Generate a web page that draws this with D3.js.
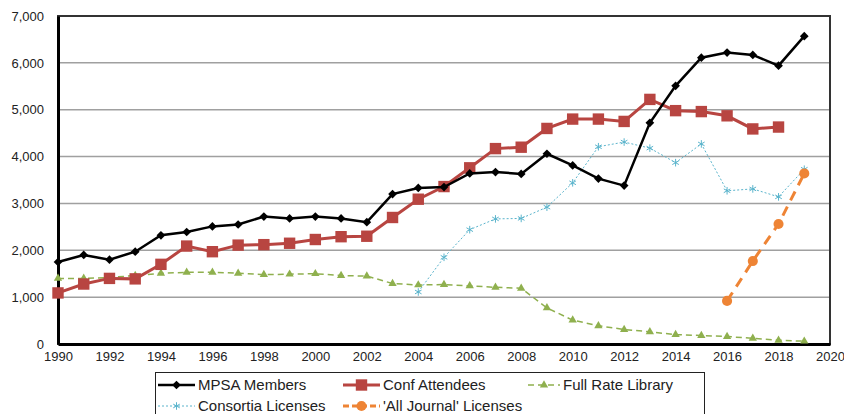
<!DOCTYPE html>
<html>
<head>
<meta charset="utf-8">
<script src="https://cdnjs.cloudflare.com/ajax/libs/d3/7.8.5/d3.min.js"></script>
<style>
  body { margin: 0; background: #fff; }
  svg text { font-family: Arial, "Liberation Sans", sans-serif; fill: #222; }
</style>
</head>
<body>
<svg id="chart" width="844" height="414"></svg>
<script>
// years on the x axis
var years = d3.range(1990, 2020);

var mpsaMembers = [1750, 1900, 1800, 1970, 2320, 2390, 2510, 2550, 2720, 2680,
                   2720, 2680, 2600, 3200, 3330, 3350, 3640, 3670, 3630, 4060,
                   3810, 3530, 3380, 4720, 5510, 6110, 6220, 6170, 5940, 6570];
var confAttendees = [1090, 1280, 1400, 1390, 1700, 2090, 1970, 2110, 2120, 2150,
                     2230, 2290, 2300, 2700, 3090, 3360, 3760, 4170, 4200, 4600,
                     4800, 4800, 4750, 5220, 4980, 4960, 4870, 4590, 4630, null];
var fullRateLibrary = [1400, 1400, 1420, 1460, 1510, 1530, 1530, 1510, 1480, 1490,
                       1500, 1460, 1450, 1290, 1260, 1270, 1240, 1210, 1190, 770,
                       510, 390, 310, 260, 200, 180, 160, 120, 80, 60];
var consortiaLicenses = [null, null, null, null, null, null, null, null, null, null,
                         null, null, null, null, 1110, 1850, 2440, 2670, 2680, 2920,
                         3440, 4210, 4310, 4180, 3870, 4270, 3270, 3310, 3140, 3730];
var allJournalLicenses = [null, null, null, null, null, null, null, null, null, null,
                          null, null, null, null, null, null, null, null, null, null,
                          null, null, null, null, null, null, 920, 1770, 2560, 3640];

var xTicks = d3.range(1990, 2021, 2);
var yTicks = d3.range(0, 7001, 1000);

var margin = {top: 16, right: 14, bottom: 70, left: 58};
var width = 844 - margin.left - margin.right,
    height = 414 - margin.top - margin.bottom;

var svg = d3.select("#chart");
var g = svg.append("g").attr("transform", "translate(" + margin.left + "," + margin.top + ")");

var x = d3.scaleLinear().domain([1990, 2020]).range([0, width]);
var y = d3.scaleLinear().domain([0, 7000]).range([height, 0]);

// gridlines
g.selectAll("line.grid")
    .data(yTicks.slice(1, -1))
    .enter().append("line")
    .attr("class", "grid")
    .attr("x1", 0).attr("x2", width)
    .attr("y1", d => y(d)).attr("y2", d => y(d))
    .attr("stroke", "#a0a0a0")
    .attr("stroke-width", 1.5);

// frame (top/right)
g.append("rect")
    .attr("x", 0).attr("y", 0)
    .attr("width", width).attr("height", height)
    .attr("fill", "none")
    .attr("stroke", "#333")
    .attr("stroke-width", 2);

// axes
var yAxis = g.append("g")
    .call(d3.axisLeft(y).tickValues(yTicks).tickFormat(d3.format(",")).tickSize(0).tickPadding(14));
yAxis.select(".domain").attr("stroke", "#000").attr("stroke-width", 3);
yAxis.selectAll("text").attr("font-size", 13);

var xAxis = g.append("g")
    .attr("transform", "translate(0," + height + ")")
    .call(d3.axisBottom(x).tickValues(xTicks).tickFormat(d3.format("d")).tickSize(0).tickPadding(8));
xAxis.select(".domain").attr("stroke", "#000").attr("stroke-width", 3);
xAxis.selectAll("text").attr("font-size", 13);

var series = [
  {name: "MPSA Members", values: mpsaMembers, color: "#000", width: 2.5, dash: null, marker: "diamond", size: 38},
  {name: "Conf Attendees", values: confAttendees, color: "#b84541", width: 3, dash: null, marker: "square", size: 130},
  {name: "Full Rate Library", values: fullRateLibrary, color: "#8fb04e", width: 1.5, dash: "6,4", marker: "triangle", size: 30},
  {name: "Consortia Licenses", values: consortiaLicenses, color: "#5ab4cc", width: 1, dash: "2,2", marker: "asterisk", size: 40},
  {name: "'All Journal' Licenses", values: allJournalLicenses, color: "#ee8435", width: 3, dash: "10,7", marker: "circle", size: 80}
];

var symbolFor = {
  diamond: d3.symbolSquare, // rotated 45 below
  square: d3.symbolSquare,
  triangle: d3.symbolTriangle,
  asterisk: d3.symbolAsterisk,
  circle: d3.symbolCircle
};

var line = d3.line()
    .defined(d => d.v != null)
    .x(d => x(d.year))
    .y(d => y(d.v));

function drawMarker(sel, s) {
  var sym = d3.symbol().type(symbolFor[s.marker]).size(s.size);
  sel.attr("d", sym)
     .attr("fill", s.marker == "asterisk" ? "none" : s.color)
     .attr("stroke", s.color)
     .attr("stroke-width", s.marker == "asterisk" ? 1 : 0);
}

function rot(s) {
  return s.marker == "diamond" ? " rotate(45)" : "";
}

// draw order: full rate, consortia, all journal, conf, mpsa
[2, 3, 4, 1, 0].forEach(function (i) {
  var s = series[i];
  var pts = years.map((yr, j) => ({year: yr, v: s.values[j]}));
  g.append("path")
      .datum(pts)
      .attr("fill", "none")
      .attr("stroke", s.color)
      .attr("stroke-width", s.width)
      .attr("stroke-dasharray", s.dash)
      .attr("d", line);
  g.selectAll("path.m" + i)
      .data(pts.filter(d => d.v != null))
      .enter().append("path")
      .attr("class", "m" + i)
      .attr("transform", d => "translate(" + x(d.year) + "," + y(d.v) + ")" + rot(s))
      .call(drawMarker, s);
});

// legend
var legend = svg.append("g");
legend.append("rect")
    .attr("x", 155.5).attr("y", 372.5)
    .attr("width", 549).attr("height", 60)
    .attr("fill", "#fff")
    .attr("stroke", "#222")
    .attr("stroke-width", 1);

var legendPos = [[158, 385], [343, 385], [528, 385], [158, 406], [343, 406]];
series.forEach(function (s, i) {
  var lx = legendPos[i][0], ly = legendPos[i][1];
  var lw = i == 2 ? 32 : 37;
  var item = legend.append("g");
  item.append("line")
      .attr("x1", lx).attr("x2", lx + lw)
      .attr("y1", ly).attr("y2", ly)
      .attr("stroke", s.color)
      .attr("stroke-width", s.width)
      .attr("stroke-dasharray", i == 4 ? "6,3" : s.dash);
  item.append("path")
      .attr("transform", "translate(" + (lx + lw / 2) + "," + ly + ")" + rot(s))
      .call(drawMarker, s);
  item.append("text")
      .attr("x", lx + lw + 3)
      .attr("y", ly)
      .attr("dy", "0.35em")
      .attr("font-size", 15)
      .text(s.name);
});
</script>
</body>
</html>
